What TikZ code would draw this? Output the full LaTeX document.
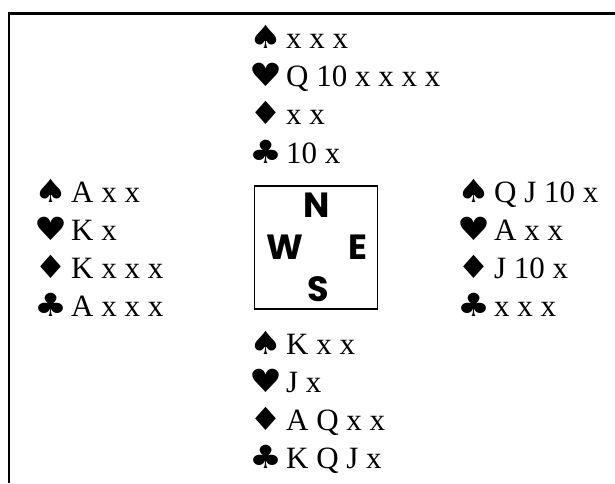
\documentclass[tikz,border=0pt]{standalone}
\usepackage{fontspec}
\setmainfont{Liberation Serif}
\newfontfamily\suitfont{DejaVu Sans}
\newfontfamily\compassfont{Poppins}
\usetikzlibrary{positioning}
\tikzset{
  cards/.style={anchor=base west, inner sep=0pt,
    font=\fontsize{31}{37}\selectfont},
  compass/.style={anchor=base, inner sep=0pt,
    font=\compassfont\bfseries\fontsize{35}{42}\selectfont},
  tablebox/.style={rectangle, draw, line width=1.5pt,
    minimum size=123pt, inner sep=0pt},
  frame/.style={line width=2.6pt}
}
\newcommand{\suitsym}[1]{\makebox[37pt][l]{\scalebox{1.15}[1]{\suitfont\fontsize{32}{36}\selectfont #1}}}

\begin{document}
\begin{tikzpicture}[x=1pt, y=-1pt]
  \useasboundingbox (0,0) rectangle (615,483);

  % Frame
  \draw[frame] (9,483) |- (615,13.7);

  % Table
  \node[tablebox] (table) at (315.8,247.7) {};
  \node[compass] (dirN) at (316.7,217) {N};
  \node[compass] (dirW) at (285.3,259.7) {W};
  \node[compass] (dirE) at (357.5,259.7) {E};
  \node[compass] (dirS) at (318.3,301.3) {S};

  % Hands
  \foreach \s/\c [count=\i] in {♠/x x x, ♥/Q 10 x x x x, ♦/x x, ♣/10 x}
    \node[cards] (north-\i) at (249,{48.5+38.2*(\i-1)}) {\suitsym{\s}\c};
  \foreach \s/\c [count=\i] in {♠/A x x, ♥/K x, ♦/K x x x, ♣/A x x x}
    \node[cards] (west-\i) at (34,{202.5+38*(\i-1)}) {\suitsym{\s}\c};
  \foreach \s/\c [count=\i] in {♠/Q J 10 x, ♥/A x x, ♦/J 10 x, ♣/x x x}
    \node[cards] (east-\i) at (457,{202.5+38*(\i-1)}) {\suitsym{\s}\c};
  \foreach \s/\c [count=\i] in {♠/K x x, ♥/J x, ♦/A Q x x, ♣/K Q J x}
    \node[cards] (south-\i) at (249,{354+38.2*(\i-1)}) {\suitsym{\s}\c};
\end{tikzpicture}
\end{document}
